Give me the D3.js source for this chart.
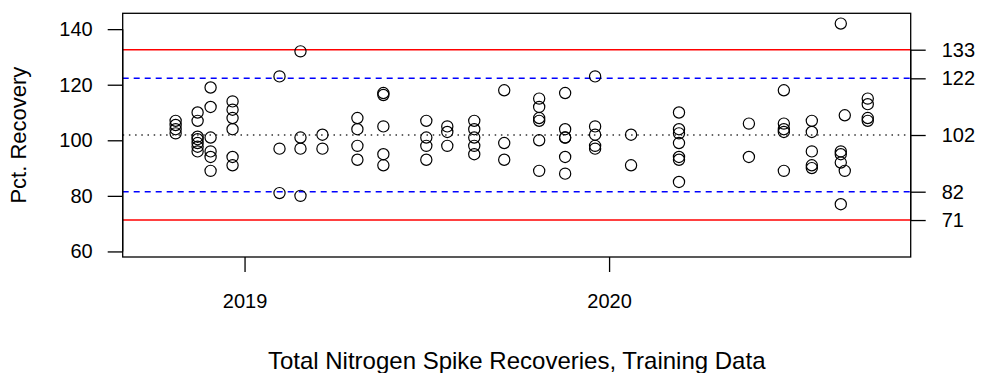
<html>
<head>
<script src="https://d3js.org/d3.v7.min.js"></script>
<style>
  body { margin: 0; background: #fff; }
  text { font-family: "Liberation Sans", Arial, sans-serif; font-size: 20px; fill: #000; }
</style>
</head>
<body>
<svg id="chart" width="985" height="373"></svg>
<script>
// sample dates and recoveries (one entry per circle)
const dates = [
  "2018-10-24","2018-10-24","2018-10-24","2018-10-24",
  "2018-11-15","2018-11-15","2018-11-15","2018-11-15","2018-11-15","2018-11-15","2018-11-15",
  "2018-11-28","2018-11-28","2018-11-28","2018-11-28","2018-11-28","2018-11-28",
  "2018-12-20","2018-12-20","2018-12-20","2018-12-20","2018-12-20","2018-12-20",
  "2019-02-05","2019-02-05","2019-02-05",
  "2019-02-26","2019-02-26","2019-02-26","2019-02-26",
  "2019-03-20","2019-03-20",
  "2019-04-24","2019-04-24","2019-04-24","2019-04-24",
  "2019-05-20","2019-05-20","2019-05-20","2019-05-20","2019-05-20",
  "2019-07-02","2019-07-02","2019-07-02","2019-07-02",
  "2019-07-23","2019-07-23","2019-07-23",
  "2019-08-19","2019-08-19","2019-08-19","2019-08-19","2019-08-19",
  "2019-09-18","2019-09-18","2019-09-18",
  "2019-10-23","2019-10-23","2019-10-23","2019-10-23","2019-10-23","2019-10-23",
  "2019-11-18","2019-11-18","2019-11-18","2019-11-18","2019-11-18","2019-11-18",
  "2019-12-18","2019-12-18","2019-12-18","2019-12-18","2019-12-18",
  "2020-01-23","2020-01-23",
  "2020-03-11","2020-03-11","2020-03-11","2020-03-11","2020-03-11","2020-03-11","2020-03-11",
  "2020-05-20","2020-05-20",
  "2020-06-24","2020-06-24","2020-06-24","2020-06-24","2020-06-24",
  "2020-07-22","2020-07-22","2020-07-22","2020-07-22","2020-07-22",
  "2020-08-20","2020-08-20","2020-08-20","2020-08-20","2020-08-20",
  "2020-08-24","2020-08-24",
  "2020-09-16","2020-09-16","2020-09-16","2020-09-16"
];
const recovery = [
  107,105.5,104,102.5,
  110,107,101.3,100.4,99,97.7,96,
  119,112,101,96,94,89,
  114,111,108,104,94,91,
  123,97,81,
  132,101,97,80,
  102,97,
  108,104,98,93,
  117,116.3,105,95,91,
  107,101,98,93,
  105,103,98,
  107,104,101,98,95,
  118,99,93,
  115,112,108,107,100,89,
  117,104,101,101,94,88,
  123,105,102,98,97,
  102,91,
  110,104,102.5,99,94,93,85,
  106,94,
  118,106,104,103,89,
  107,103,96,91,90,
  142,96,95,92,77,
  109,89,
  115,113,108,107
];

// control limits: upper action, upper warning, centre, lower warning, lower action
const limitValues = [132.6, 122.3, 101.9, 81.5, 71.3];
const limitLabels = ["133", "122", "102", "82", "71"];
const limitKinds  = ["action", "warning", "centre", "warning", "action"];

const yTicks = [60, 80, 100, 120, 140];
const yearTicks = ["2019-01-01", "2020-01-01"];
const yearLabels = ["2019", "2020"];

const parse = d3.timeParse("%Y-%m-%d");
const pLeft = 122.7, pRight = 910.7, pTop = 13.3, pBottom = 257;

const x = d3.scaleTime()
    .domain([parse("2018-09-01"), parse("2020-10-29")])
    .range([pLeft, pRight]);
const y = d3.scaleLinear()
    .domain([58, 145.7])
    .range([pBottom, pTop]);

const svg = d3.select("#chart");

// limit lines
const lineStyle = {
  action:  {stroke: "#ff0000", dash: null},
  warning: {stroke: "#0000ff", dash: "6,5"},
  centre:  {stroke: "#333", dash: "1.5,4.7"}
};
svg.append("g").selectAll("line")
  .data(limitValues)
  .join("line")
    .attr("x1", pLeft).attr("x2", pRight)
    .attr("y1", d => y(d)).attr("y2", d => y(d))
    .attr("stroke", (d, i) => lineStyle[limitKinds[i]].stroke)
    .attr("stroke-width", 1.4)
    .attr("stroke-dasharray", (d, i) => lineStyle[limitKinds[i]].dash);

// points
const pts = dates.map((d, i) => ({date: parse(d), v: recovery[i]}));
svg.append("g").selectAll("circle")
  .data(pts)
  .join("circle")
    .attr("cx", d => x(d.date))
    .attr("cy", d => y(d.v))
    .attr("r", 5.6)
    .attr("fill", "none")
    .attr("stroke", "#000")
    .attr("stroke-width", 1.2);

// frame
svg.append("rect")
  .attr("x", pLeft).attr("y", pTop)
  .attr("width", pRight - pLeft).attr("height", pBottom - pTop)
  .attr("fill", "none").attr("stroke", "#000").attr("stroke-width", 1.3);

// left axis
const yAxis = d3.axisLeft(y).tickValues(yTicks).tickSize(15).tickPadding(15);
const gy = svg.append("g").attr("transform", `translate(${pLeft},0)`).call(yAxis);
gy.select(".domain").attr("d", `M0,${y(60)}V${y(140)}`).attr("stroke-width", 1.3);

// right axis with limit labels
const rAxis = d3.axisRight(y).tickValues(limitValues).tickSize(15).tickPadding(16)
    .tickFormat((d, i) => limitLabels[i]);
const gr = svg.append("g").attr("transform", `translate(${pRight},0)`).call(rAxis);
gr.select(".domain").attr("d", `M0,${y(limitValues[4])}V${y(limitValues[0])}`).attr("stroke-width", 1.3);

// bottom axis (years)
const xAxis = d3.axisBottom(x).tickValues(yearTicks.map(parse)).tickSize(15).tickPadding(22)
    .tickFormat((d, i) => yearLabels[i]);
const gx = svg.append("g").attr("transform", `translate(0,${pBottom})`).call(xAxis);
gx.select(".domain").remove();

svg.selectAll(".tick line").attr("stroke", "#000").attr("stroke-width", 1.3);
svg.selectAll(".tick text").style("font-size", "20px").style("font-family", "Liberation Sans, Arial, sans-serif").attr("fill", "#000");

// labels
svg.append("text")
  .attr("x", (pLeft + pRight) / 2).attr("y", 369)
  .attr("text-anchor", "middle")
  .style("font-size", "24px")
  .text("Total Nitrogen Spike Recoveries, Training Data");

svg.append("text")
  .attr("transform", `translate(26,${(pTop + pBottom) / 2}) rotate(-90)`)
  .attr("text-anchor", "middle")
  .style("font-size", "22px")
  .text("Pct. Recovery");
</script>
</body>
</html>
